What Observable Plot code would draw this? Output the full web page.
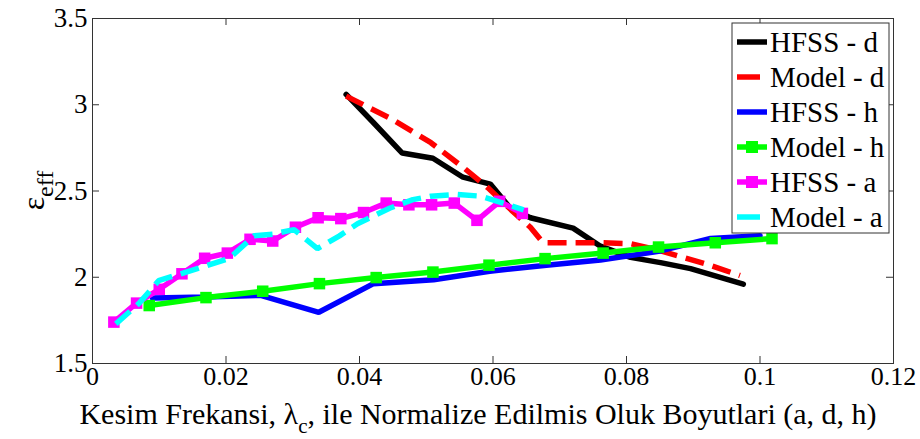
<!DOCTYPE html>
<html><head><meta charset="utf-8">
<script src="https://cdn.jsdelivr.net/npm/d3@7"></script>
<script src="https://cdn.jsdelivr.net/npm/@observablehq/plot@0.6"></script>
<style>body{margin:0;background:#fff} #chart{position:relative;width:920px;height:439px}</style>
</head><body><div id="chart"></div>
<script>
const xTicks = [0, 0.02, 0.04, 0.06, 0.08, 0.1, 0.12];
const yTicks = [1.5, 2, 2.5, 3, 3.5];

const hfssDX = [0.038, 0.042, 0.0464, 0.051, 0.0555, 0.0596, 0.0626, 0.0656, 0.072, 0.0761, 0.0806, 0.0851, 0.0896, 0.0975];
const hfssDY = [3.06, 2.90, 2.72, 2.69, 2.58, 2.54, 2.40, 2.345, 2.285, 2.18, 2.115, 2.085, 2.05, 1.96];

const modelDX = [0.038, 0.0447, 0.0507, 0.0556, 0.0592, 0.063, 0.0656, 0.0675, 0.072, 0.076, 0.0806, 0.0845, 0.0881, 0.0925, 0.097];
const modelDY = [3.05, 2.92, 2.78, 2.635, 2.52, 2.38, 2.29, 2.20, 2.20, 2.20, 2.195, 2.16, 2.12, 2.07, 2.01];

const hfssHX = [0.009, 0.017, 0.0252, 0.0339, 0.0421, 0.0511, 0.0595, 0.068, 0.0761, 0.0848, 0.0926, 0.100];
const hfssHY = [1.88, 1.885, 1.895, 1.797, 1.963, 1.985, 2.035, 2.07, 2.10, 2.15, 2.225, 2.24];

const modelHX = [0.0085, 0.017, 0.0255, 0.034, 0.0425, 0.051, 0.0594, 0.0678, 0.0765, 0.0848, 0.0933, 0.1018];
const modelHY = [1.836, 1.882, 1.919, 1.963, 1.998, 2.03, 2.07, 2.108, 2.14, 2.175, 2.20, 2.224];

const hfssAX = [0.0032, 0.0066, 0.0100, 0.0134, 0.0168, 0.0202, 0.0236, 0.027, 0.0304, 0.0338, 0.0372, 0.0406, 0.044, 0.0474, 0.0508, 0.0542, 0.0576, 0.061, 0.0644];
const hfssAY = [1.74, 1.85, 1.93, 2.02, 2.11, 2.14, 2.22, 2.21, 2.29, 2.345, 2.34, 2.375, 2.43, 2.42, 2.42, 2.43, 2.33, 2.44, 2.37];

const modelAX = [0.0035, 0.007, 0.0099, 0.0132, 0.0165, 0.0205, 0.0242, 0.027, 0.0302, 0.0337, 0.037, 0.0397, 0.0445, 0.048, 0.0507, 0.0545, 0.0582, 0.0615, 0.0646];
const modelAY = [1.73, 1.85, 1.98, 2.02, 2.06, 2.11, 2.24, 2.25, 2.276, 2.166, 2.24, 2.31, 2.40, 2.45, 2.47, 2.48, 2.47, 2.43, 2.39];

const seriesNames = ["HFSS - d", "Model - d", "HFSS - h", "Model - h", "HFSS - a", "Model - a"];
const seriesColors = ["#000000", "#ff0000", "#0000ff", "#00ff00", "#ff00ff", "#00ffff"];
const seriesDashed = [false, true, false, false, false, true];
const seriesMarkers = [false, false, false, true, true, false];
const seriesX = [hfssDX, modelDX, hfssHX, modelHX, hfssAX, modelAX];
const seriesY = [hfssDY, modelDY, hfssHY, modelHY, hfssAY, modelAY];

const xDomain = [0, 0.12], yDomain = [1.5, 3.5];
const W = 920, H = 439, mL = 92, mR = 27, mT = 18, mB = 76;
const xTickLen = (yDomain[1] - yDomain[0]) * 7 / (H - mT - mB);
const yTickLen = (xDomain[1] - xDomain[0]) * 7 / (W - mL - mR);
const FONT = "Liberation Serif, Times New Roman, Times, DejaVu Serif, Noto Serif, serif";

const seriesMarks = [];
seriesNames.forEach((name, i) => {
  const rows = seriesX[i].map((x, j) => ({x, y: seriesY[i][j]}));
  seriesMarks.push(Plot.line(rows, {
    x: "x", y: "y", stroke: seriesColors[i], strokeWidth: 5.5,
    strokeLinejoin: "miter", strokeLinecap: seriesDashed[i] ? "butt" : "round",
    strokeDasharray: seriesDashed[i] ? "19,9" : null
  }));
  if (seriesMarkers[i]) {
    seriesMarks.push(Plot.dot(rows, {x: "x", y: "y", symbol: "square", r: 6.5, fill: seriesColors[i], stroke: null}));
  }
});

const chart = Plot.plot({
  width: W, height: H, marginLeft: mL, marginRight: mR, marginTop: mT, marginBottom: mB,
  x: {domain: xDomain}, y: {domain: yDomain},
  style: {fontFamily: FONT, fontSize: "27px", background: "white", color: "#000"},
  marks: [
    Plot.ruleX(xTicks, {x: d => d, y1: yDomain[0], y2: yDomain[0] + xTickLen, stroke: "#333"}),
    Plot.ruleX(xTicks, {x: d => d, y1: yDomain[1] - xTickLen, y2: yDomain[1], stroke: "#333"}),
    Plot.ruleY(yTicks, {y: d => d, x1: xDomain[0], x2: xDomain[0] + yTickLen, stroke: "#333"}),
    Plot.ruleY(yTicks, {y: d => d, x1: xDomain[1] - yTickLen, x2: xDomain[1], stroke: "#333"}),
    Plot.axisX(xTicks, {tickSize: 0, tickPadding: 3, tickFormat: d => String(d), fontSize: 26, label: null}),
    Plot.axisY(yTicks, {tickSize: 0, tickPadding: 5, tickFormat: d => String(d), fontSize: 27, label: null}),
    ...seriesMarks,
    Plot.frame({stroke: "#333", strokeWidth: 1})
  ]
});
document.getElementById("chart").appendChild(chart);
d3.select(chart).selectAll("text").attr("font-family", FONT).style("font-family", FONT);

const svg = d3.select(chart);
// x axis title
const xt = svg.append("text")
  .attr("x", 478).attr("y", 424)
  .attr("text-anchor", "middle")
  .style("font-family", FONT).style("font-size", "30px").attr("fill", "#000");
xt.append("tspan").text("Kesim Frekansi, λ");
xt.append("tspan").attr("dy", 9).style("font-size", "21px").text("c");
xt.append("tspan").attr("dy", -9).text(", ile Normalize Edilmis Oluk Boyutlari (a, d, h)");

// y axis title
const yt = svg.append("text")
  .attr("transform", `translate(44,${(mT + H - mB) / 2}) rotate(-90)`)
  .attr("text-anchor", "middle")
  .style("font-family", FONT).style("font-size", "32px").attr("fill", "#000");
yt.append("tspan").text("ε");
yt.append("tspan").attr("dy", 9).style("font-size", "24px").text("eff");

// legend
const lg = svg.append("g");
lg.append("rect").attr("x", 732).attr("y", 23).attr("width", 157).attr("height", 210)
  .attr("fill", "white").attr("stroke", "#333").attr("stroke-width", 1);
seriesNames.forEach((name, i) => {
  const cy = 42 + i * 35;
  lg.append("line").attr("x1", 737).attr("x2", seriesDashed[i] ? 760 : 767)
    .attr("y1", cy).attr("y2", cy).attr("stroke", seriesColors[i]).attr("stroke-width", 5.5);
  if (seriesMarkers[i]) {
    lg.append("rect").attr("x", 746).attr("y", cy - 6).attr("width", 12).attr("height", 12).attr("fill", seriesColors[i]);
  }
  lg.append("text").attr("x", 770).attr("y", cy + 10).attr("text-anchor", "start").text(name)
    .style("font-family", FONT).style("font-size", "29px").attr("fill", "#000");
});
</script>
</body></html>
